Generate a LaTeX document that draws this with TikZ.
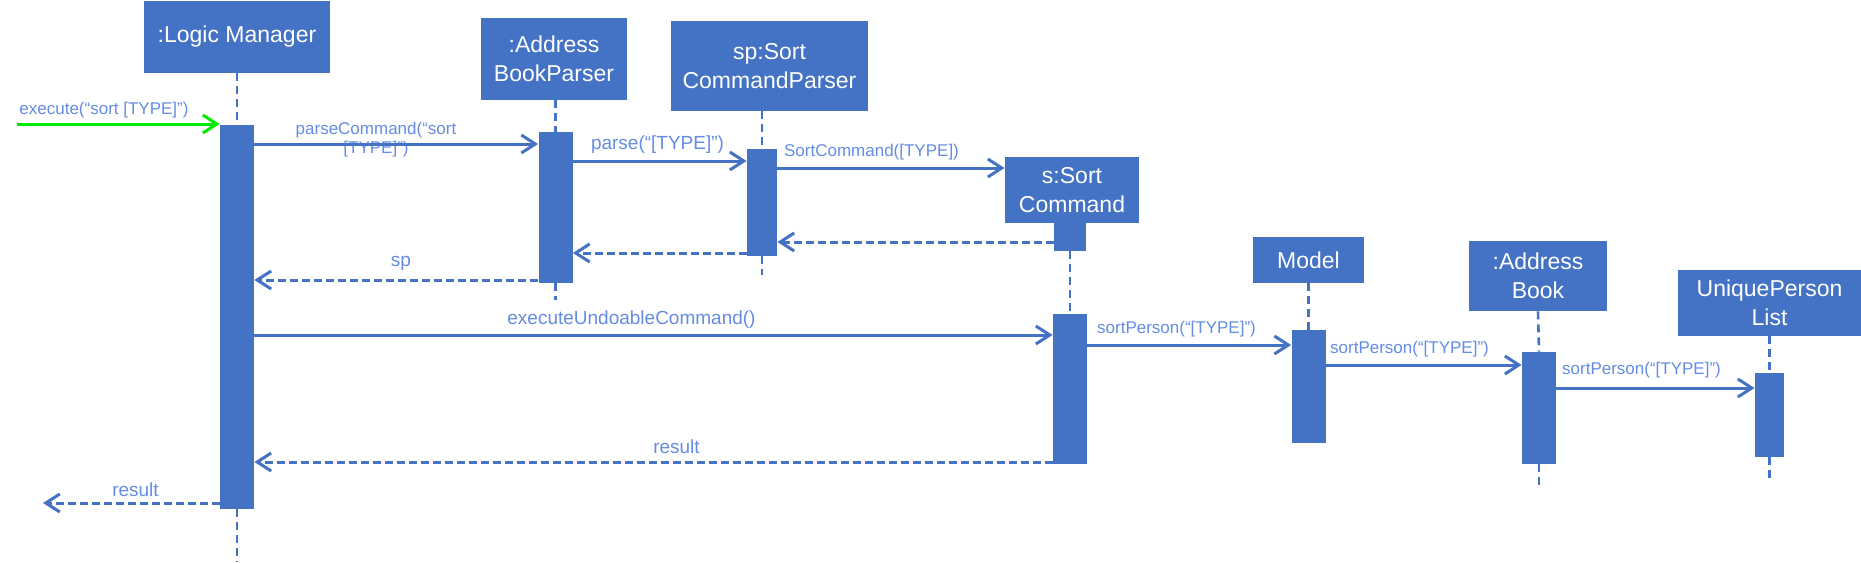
\documentclass[tikz,border=0pt]{standalone}
\usepackage{fontspec}
\setmainfont{Liberation Sans}
\usetikzlibrary{arrows.meta}
\definecolor{boxblue}{RGB}{68,114,196}
\definecolor{lblblue}{RGB}{100,140,228}
\definecolor{arrgreen}{RGB}{0,235,0}
\begin{document}
\begin{tikzpicture}[x=0.5pt,y=-0.5pt,
  obj/.style={rectangle, fill=boxblue, text=white, inner sep=0pt, align=center, font=\fontsize{11.5}{14.5}\selectfont},
  act/.style={rectangle, fill=boxblue, inner sep=0pt},
  life/.style={draw=boxblue, line width=1.3pt, dash pattern=on 4pt off 2.5pt},
  msg/.style={draw=boxblue, line width=1.5pt, -{Straight Barb[length=7pt,width=9pt]}},
  ret/.style={msg, dash pattern=on 4pt off 2pt},
  lbl/.style={text=lblblue, inner sep=0pt, font=\fontsize{8.5}{9.5}\selectfont},
  lblb/.style={text=lblblue, inner sep=0pt, font=\fontsize{9.5}{10.5}\selectfont},
]
\useasboundingbox (0,0) rectangle (1861,562);

% objects
\node[obj, minimum width=93pt, minimum height=36pt] (lm) at (237,37) {:Logic Manager};
\node[obj, minimum width=73pt, minimum height=41pt] (abp) at (554,59) {:Address\\BookParser};
\node[obj, minimum width=98.5pt, minimum height=45pt] (scp) at (769.5,66) {sp:Sort\\CommandParser};
\node[obj, minimum width=67pt, minimum height=33pt] (sc) at (1072,190) {s:Sort\\Command};
\node[obj, minimum width=55.5pt, minimum height=23pt] (model) at (1308.5,260) {Model};
\node[obj, minimum width=69pt, minimum height=35pt] (ab) at (1538,276) {:Address\\Book};
\node[obj, minimum width=91.5pt, minimum height=33pt] (upl) at (1769.5,303) {UniquePerson\\List};

% activations
\node[act, minimum width=17pt, minimum height=192pt] (lmA) at (237,317) {};
\node[act, minimum width=17pt, minimum height=75.5pt] (abpA) at (555.5,207.5) {};
\node[act, minimum width=15pt, minimum height=53.5pt] (scpA) at (762,202.5) {};
\node[act, minimum width=16pt, minimum height=14pt] (scA1) at (1070,237) {};
\node[act, minimum width=17pt, minimum height=75pt] (scA2) at (1070,389) {};
\node[act, minimum width=17pt, minimum height=56.5pt] (modA) at (1308.5,386.5) {};
\node[act, minimum width=17pt, minimum height=56pt] (abA) at (1539,408) {};
\node[act, minimum width=14.5pt, minimum height=42pt] (uplA) at (1769.5,415) {};

% lifeline ends
\coordinate (lmEnd) at (237,562);
\coordinate (abpEnd) at (555.5,300);
\coordinate (scpEnd) at (762,275);
\coordinate (abEnd) at (1539,488);
\coordinate (uplEnd) at (1769.5,483);

% lifelines
\draw[life] (lm.south) -- (lmA.north);
\draw[life] (lmA.south) -- (lmEnd);
\draw[life] (abp.south -| abpA.north) -- (abpA.north);
\draw[life] (abpA.south) -- (abpEnd);
\draw[life] (scp.south -| scpA.north) -- (scpA.north);
\draw[life] (scpA.south) -- (scpEnd);
\draw[life] (scA1.south) -- (scA2.north);
\draw[life] (model.south) -- (modA.north);
\draw[life] (ab.south) -- (abA.north);
\draw[life] (abA.south) -- (abEnd);
\draw[life] (upl.south) -- (uplA.north);
\draw[life] (uplA.south) -- (uplEnd);

% messages
\coordinate (start) at (17,124);
\node[lbl] (t1) at (104,110) {execute(“sort [TYPE]”)};
\draw[msg, draw=arrgreen] (start) -- (lmA.west |- start);

\node[lbl, align=center] (t2) at (376,139.5) {parseCommand(“sort\\{}[TYPE]”)};
\draw[msg] (lmA.east |- 0,144) -- (abpA.west |- 0,144);

\node[lblb] (t3) at (657.5,145) {parse(“[TYPE]”)};
\draw[msg] (abpA.east |- 0,161) -- (scpA.west |- 0,161);

\node[lbl] (t4) at (871.5,152) {SortCommand([TYPE])};
\draw[msg] (scpA.east |- 0,168) -- (sc.west |- 0,168);

\draw[ret] (scA1.west |- 0,242) -- (scpA.east |- 0,242);
\draw[ret] (scpA.west |- 0,253) -- (abpA.east |- 0,253);

\node[lblb] (t5) at (401,263) {sp};
\draw[ret] (abpA.west |- 0,280) -- (lmA.east |- 0,280);

\node[lblb] (t6) at (631.5,320) {executeUndoableCommand()};
\draw[msg] (lmA.east |- 0,335) -- (scA2.west |- 0,335);

\node[lbl] (t7) at (1176.5,329) {sortPerson(“[TYPE]”)};
\draw[msg] (scA2.east |- 0,345) -- (modA.west |- 0,345);

\node[lbl] (t8) at (1409.5,349) {sortPerson(“[TYPE]”)};
\draw[msg] (modA.east |- 0,365) -- (abA.west |- 0,365);

\node[lbl] (t9) at (1641.5,370) {sortPerson(“[TYPE]”)};
\draw[msg] (abA.east |- 0,388) -- (uplA.west |- 0,388);

\node[lblb] (t10) at (676.5,447) {result};
\draw[ret] (scA2.west |- 0,462) -- (lmA.east |- 0,462);

\coordinate (out) at (43,503);
\node[lblb] (t11) at (135.5,490) {result};
\draw[ret] (lmA.west |- out) -- (out);
\end{tikzpicture}
\end{document}
